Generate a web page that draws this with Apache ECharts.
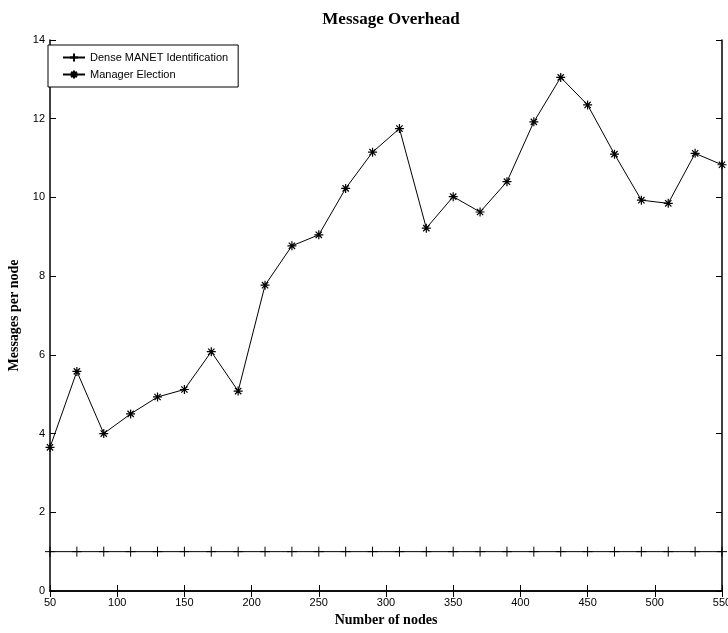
<!DOCTYPE html>
<html>
<head>
<meta charset="utf-8">
<script src="https://cdn.jsdelivr.net/npm/echarts@6/dist/echarts.min.js"></script>
<style>html,body{margin:0;padding:0;background:#fff}#c{width:728px;height:633px}</style>
</head>
<body>
<div id="c"></div>
<script>
var nodes = [50,70,90,110,130,150,170,190,210,230,250,270,290,310,330,350,370,390,410,430,450,470,490,510,530,550];
var denseManet = [1,1,1,1,1,1,1,1,1,1,1,1,1,1,1,1,1,1,1,1,1,1,1,1,1,1];
var managerElection = [3.65,5.58,4.0,4.5,4.93,5.12,6.08,5.08,7.77,8.77,9.05,10.23,11.15,11.75,9.22,10.02,9.63,10.4,11.92,13.05,12.35,11.1,9.93,9.85,11.12,10.83];
var xTicks = {min:50, max:550, interval:50};
var yTicks = {min:0, max:14, interval:2};

function pairs(xs, ys){ return xs.map(function(x,i){return [x, ys[i]];}); }

var plusPath = 'path://M0,5 L10,5 M5,0 L5,10';
var starPath = 'path://M0,5 L10,5 M5,0 L5,10 M1.5,1.5 L8.5,8.5 M1.5,8.5 L8.5,1.5';

var chart = echarts.init(document.getElementById('c'), null, {renderer:'canvas'});
var axisCommon = {
  axisLine:{show:true, lineStyle:{color:'#000', width:1.5}},
  axisTick:{show:true, inside:true, length:6, lineStyle:{color:'#000', width:1}},
  splitLine:{show:false}
};
chart.setOption({
  animation:false,
  backgroundColor:'#fff',
  title:{text:'Message Overhead', left:386, top:6, textAlign:'center',
    textStyle:{fontFamily:'Liberation Serif', fontWeight:'bold', fontSize:17, color:'#000'}},
  legend:{left:48, top:45, orient:'vertical', backgroundColor:'#fff', borderColor:'#000', borderWidth:1,
    borderRadius:0, padding:[6,10,6,14], itemGap:4, itemWidth:22, itemHeight:10,
    textStyle:{fontFamily:'Liberation Sans', fontSize:11, color:'#000'},
    data:['Dense MANET Identification','Manager Election']},
  grid:{left:50, right:6, top:40, bottom:42, outerBoundsMode:'none', containLabel:false},
  xAxis:[
    Object.assign({type:'value', min:xTicks.min, max:xTicks.max, interval:xTicks.interval,
      name:'Number of nodes', nameLocation:'middle', nameGap:22,
      nameTextStyle:{fontFamily:'Liberation Serif', fontWeight:'bold', fontSize:14, color:'#000'},
      axisLabel:{fontFamily:'Liberation Sans', fontSize:11, color:'#000', margin:6}}, axisCommon),
    Object.assign({type:'value', position:'top', min:xTicks.min, max:xTicks.max, interval:xTicks.interval,
      axisLabel:{show:false}}, axisCommon)
  ],
  yAxis:[
    Object.assign({type:'value', min:yTicks.min, max:yTicks.max, interval:yTicks.interval,
      name:'Messages per node', nameLocation:'middle', nameGap:24,
      nameTextStyle:{fontFamily:'Liberation Serif', fontWeight:'bold', fontSize:14, color:'#000'},
      axisLabel:{fontFamily:'Liberation Sans', fontSize:11, color:'#000', margin:5}}, axisCommon),
    Object.assign({type:'value', position:'right', min:yTicks.min, max:yTicks.max, interval:yTicks.interval,
      axisLabel:{show:false}}, axisCommon)
  ],
  series:[
    {name:'Dense MANET Identification', type:'line', data:pairs(nodes, denseManet),
      symbol:plusPath, symbolSize:10, showAllSymbol:true,
      lineStyle:{color:'#000', width:1},
      itemStyle:{color:'none', borderColor:'#000', borderWidth:1}},
    {name:'Manager Election', type:'line', data:pairs(nodes, managerElection),
      symbol:starPath, symbolSize:9, showAllSymbol:true,
      lineStyle:{color:'#000', width:1},
      itemStyle:{color:'none', borderColor:'#000', borderWidth:1.2}}
  ]
});
</script>
</body>
</html>
